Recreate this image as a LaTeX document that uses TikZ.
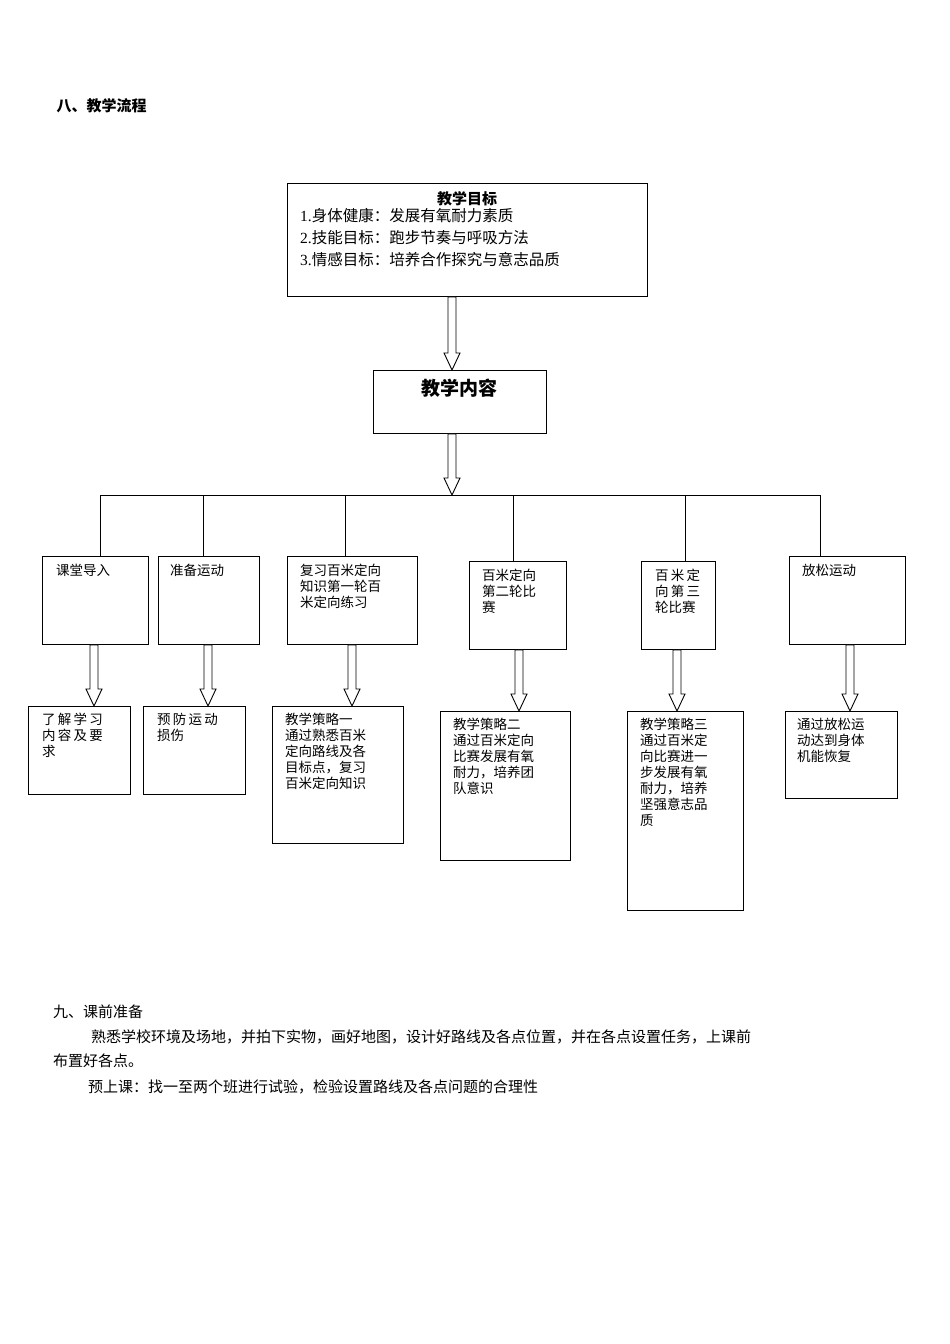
\documentclass[tikz,border=0pt]{standalone}
\usepackage{fontspec}
\setmainfont{Liberation Serif}
\newfontfamily\cjk{Noto Sans CJK SC}
\usetikzlibrary{calc}
\tikzset{
 bx/.style={draw,line width=0.9pt,anchor=north west,inner sep=0pt},
 tx/.style={anchor=north west,align=left,inner sep=0pt,font=\cjk\fontsize{13.5}{16}\selectfont},
 ln/.style={line width=0.9pt}
}
\newcommand\harrow[3]{%
 \path let \p1=(#2.south), \p2=(#3.north) in
 [draw,line width=0.9pt,fill=white] (#1pt-4pt,\y1) -- (#1pt-4pt,\y2+17pt) -- (#1pt-8pt,\y2+17pt) -- (#1pt,\y2) -- (#1pt+8pt,\y2+17pt) -- (#1pt+4pt,\y2+17pt) -- (#1pt+4pt,\y1) -- cycle;}
\newcommand\mkbox[5]{\node[bx,minimum width=#4pt-#2pt,minimum height=#5pt-#3pt] (#1) at (#2,#3) {};}
\begin{document}
\begin{tikzpicture}[x=1pt,y=-1pt]
\useasboundingbox (0,0) rectangle (950,1344);
\node[anchor=west,font=\cjk\bfseries\fontsize{15}{18}\selectfont] (t8) at (53,106) {八、教学流程};
% top
\mkbox{g}{287}{183}{647}{296}
\node[font=\cjk\bfseries\fontsize{15}{18}\selectfont] (gt) at (467,199) {教学目标};
\node[anchor=north west,align=left,inner sep=0pt,font=\fontsize{15.5}{22}\selectfont] (gl) at (300,208)
 {1.{\cjk 身体健康：发展有氧耐力素质}\\2.{\cjk 技能目标：跑步节奏与呼吸方法}\\3.{\cjk 情感目标：培养合作探究与意志品质}};
\mkbox{c}{373}{370}{546}{433}
\node[font=\cjk\bfseries\fontsize{19}{22}\selectfont] (ct) at (459,388) {教学内容};
\harrow{452}{g}{c}
\coordinate (bus) at (452,495);
\harrow{452}{c}{bus}
\draw[ln] (100,495) -- (820,495);
% upper boxes
\mkbox{A}{42}{556}{148}{644}
\mkbox{B}{158}{556}{259}{644}
\mkbox{C}{287}{556}{417}{644}
\mkbox{D}{469}{561}{566}{649}
\mkbox{E}{641}{561}{715}{649}
\mkbox{F}{789}{556}{905}{644}
\draw[ln] (100,495) -- (A.north -| 100,0);
\draw[ln] (203,495) -- (B.north -| 203,0);
\draw[ln] (345,495) -- (C.north -| 345,0);
\draw[ln] (513,495) -- (D.north -| 513,0);
\draw[ln] (685,495) -- (E.north -| 685,0);
\draw[ln] (820,495) -- (F.north -| 820,0);
\node[tx] (At) at (56,564) {课堂导入};
\node[tx] (Bt) at (170,564) {准备运动};
\node[tx] (Ct) at (300,564) {复习百米定向\\知识第一轮百\\米定向练习};
\node[tx] (Dt) at (482,569) {百米定向\\第二轮比\\赛};
\node[tx] (Et) at (655,569) {百\,米\,定\\向\,第\,三\\轮比赛};
\node[tx] (Ft) at (802,564) {放松运动};
% lower boxes
\mkbox{a}{28}{706}{130}{794}
\mkbox{b}{143}{706}{245}{794}
\mkbox{cc}{272}{706}{403}{843}
\mkbox{d}{440}{711}{570}{860}
\mkbox{e}{627}{711}{743}{910}
\mkbox{f}{785}{711}{897}{798}
\harrow{94}{A}{a}
\harrow{208}{B}{b}
\harrow{352}{C}{cc}
\harrow{519}{D}{d}
\harrow{677}{E}{e}
\harrow{850}{F}{f}
\node[tx] (at) at (42,713) {了\,解\,学\,习\\内\,容\,及\,要\\求};
\node[tx] (bt) at (157,713) {预\,防\,运\,动\\损伤};
\node[tx] (ct2) at (285,713) {教学策略一\\通过熟悉百米\\定向路线及各\\目标点，复习\\百米定向知识};
\node[tx] (dt) at (453,718) {教学策略二\\通过百米定向\\比赛发展有氧\\耐力，培养团\\队意识};
\node[tx] (et) at (640,718) {教学策略三\\通过百米定\\向比赛进一\\步发展有氧\\耐力，培养\\坚强意志品\\质};
\node[tx] (ft) at (797,718) {通过放松运\\动达到身体\\机能恢复};
% bottom text
\node[anchor=west,inner sep=0pt,font=\cjk\fontsize{15}{18}\selectfont] (n9) at (53,1012) {九、课前准备};
\node[anchor=west,inner sep=0pt,font=\cjk\fontsize{15}{18}\selectfont] (p1) at (91,1037) {熟悉学校环境及场地，并拍下实物，画好地图，设计好路线及各点位置，并在各点设置任务，上课前};
\node[anchor=west,inner sep=0pt,font=\cjk\fontsize{15}{18}\selectfont] (p2) at (53,1061) {布置好各点。};
\node[anchor=west,inner sep=0pt,font=\cjk\fontsize{15}{18}\selectfont] (p3) at (88,1087) {预上课：找一至两个班进行试验，检验设置路线及各点问题的合理性};
\end{tikzpicture}
\end{document}
